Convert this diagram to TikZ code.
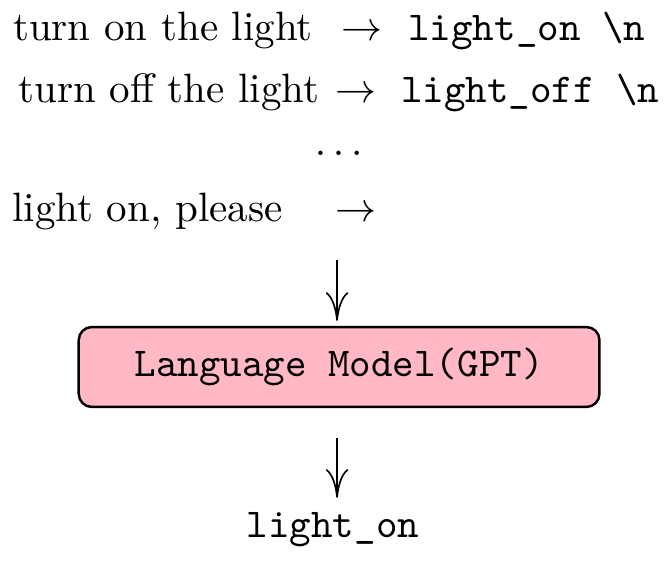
\documentclass[tikz,border=0pt]{standalone}
\usetikzlibrary{arrows.meta}
\definecolor{boxpink}{RGB}{255,184,196}
\begin{document}
\begin{tikzpicture}
		[x=1pt,y=1pt,
		every node/.style={inner sep=0pt,anchor=base west},
		lmbox/.style={draw,semithick,fill=boxpink,rounded corners=3.2pt,
			minimum width=127pt,minimum height=19.5pt,anchor=center,font=\ttfamily},
		down/.style={-{To[length=7pt,width=5.5pt]}}]
		\useasboundingbox (0,0) rectangle (163.4,-137.3);
		% examples
		\node (in1) at (3.0,-9.9) {turn on the light};
		\node (arr1) at (83.2,-9.9) {$\rightarrow$};
		\node (out1) at (99.4,-9.9) {\texttt{light\_on \textbackslash n}};
		\node (in2) at (4.3,-25.0) {turn off the light};
		\node (arr2) at (81.7,-25.0) {$\rightarrow$};
		\node (out2) at (97.6,-25.0) {\texttt{light\_off \textbackslash n}};
		\node[anchor=base] (dots) at (82.6,-37.9) {$\ldots$};
		% query
		\node (in4) at (2.8,-54.1) {light on, please};
		\node (arr4) at (81.7,-54.1) {$\rightarrow$};
		\coordinate (top) at (82.2,-63.4);
		\node[lmbox] (lm) at (82.7,-89.5) {Language Model(GPT)};
		\node[anchor=base] (res) at (81.2,-131.2) {\texttt{light\_on}};
		\draw[down] (top) -- (top |- lm.north) [shorten >=1.2pt];
		\draw[down,shorten <=7.3pt,shorten >=3.5pt] (top |- lm.south) -- (top |- res.north);
	\end{tikzpicture}
\end{document}
